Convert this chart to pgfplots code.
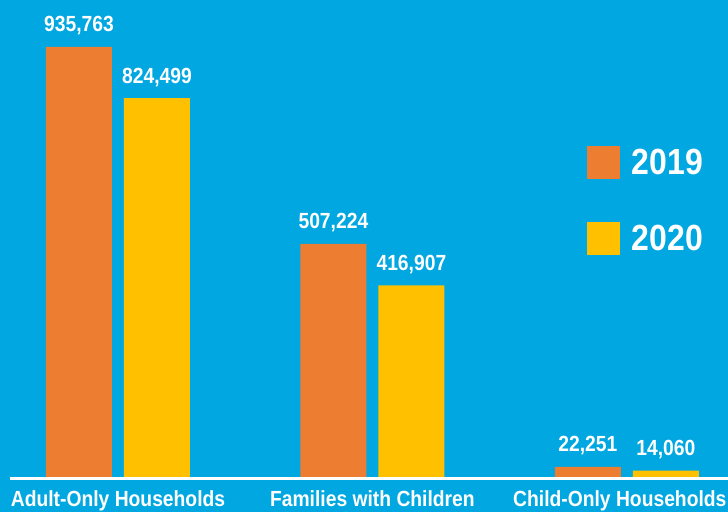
\documentclass[border=0pt]{standalone}
\usepackage{pgfplots}
\pgfplotsset{compat=1.18}
\usepackage{fontspec}
\setmainfont{Liberation Sans}[FakeStretch=0.88]
\definecolor{bg}{HTML}{00A7E1}
\definecolor{orng}{HTML}{ED7D31}
\definecolor{yell}{HTML}{FFC000}
\pgfplotstableread{
x y lab
0 935763 935,763
1 507224 507,224
2 22251 22,251
}\yrA
\pgfplotstableread{
x y lab
0 824499 824,499
1 416907 416,907
2 14060 14,060
}\yrB
\begin{document}
\begin{tikzpicture}
\fill[bg] (0,0) rectangle (728bp,512bp);
\begin{axis}[at={(0,0)}, anchor=south west, scale only axis,
  width=728bp, height=512bp,
  xmin=-0.4638, xmax=2.3978, ymin=-76167, ymax=1038047,
  axis line style={draw=none}, major tick length=0pt, ytick=\empty,
  xtick={0,1,2},
  xticklabels={Adult-Only Households, Families with Children, \hspace*{-14bp}Child-Only Households},
  xticklabel style={anchor=base, yshift=6bp, text=white, inner sep=0pt,
    font=\bfseries\fontsize{22}{22}\selectfont},
  ybar, bar width=0.2594,
  point meta=explicit symbolic,
  nodes near coords,
  nodes near coords style={anchor=base, yshift=15bp, text=white, inner sep=0pt,
    font=\bfseries\fontsize{22}{22}\selectfont},
  legend style={at={(axis cs:1.8428,720319)}, anchor=north west, draw=none, fill=none,
    inner sep=0pt, outer sep=0pt, row sep=43bp, column sep=12bp, text=white,
    font=\bfseries\fontsize{36.5}{36.5}\selectfont, nodes={inner sep=0pt}},
  legend image code/.code={\fill[#1] (0bp,-16.5bp) rectangle (33bp,16.5bp);},
  clip=false]
\addplot[fill=orng, draw=none, bar shift=-0.1533] table[x=x, y=y, meta=lab] {\yrA};
\addplot[fill=yell, draw=none, bar shift=0.1533] table[x=x, y=y, meta=lab] {\yrB};
\legend{2019, 2020}
\draw[white, line width=3bp] (axis cs:-0.4245,-3264) -- (axis cs:2.5,-3264);
\end{axis}
\pgfresetboundingbox
\useasboundingbox (0,0) rectangle (728bp,512bp);
\end{tikzpicture}
\end{document}
